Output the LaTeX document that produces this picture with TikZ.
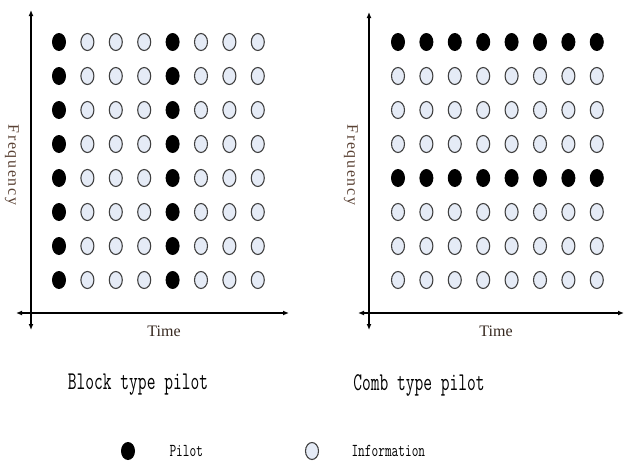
\documentclass[tikz,border=0pt]{standalone}
\usepackage{fontspec}
\usepackage{graphicx}
\usetikzlibrary{shapes.geometric, arrows.meta}
\newfontfamily\axisfont[LetterSpace=10]{Liberation Serif}
\newfontfamily\labelfont{Liberation Serif}
\definecolor{axistext}{RGB}{90,66,52}
\definecolor{infofill}{RGB}{229,235,246}
\tikzset{
  pilotdot/.style={ellipse, fill=black, minimum width=14pt, minimum height=18pt, inner sep=0pt},
  infodot/.style={ellipse, draw=black!75, fill=infofill, line width=1.1pt, minimum width=13pt, minimum height=17pt, inner sep=0pt},
  axisline/.style={line width=1.3pt, {Latex[length=6pt,width=5pt]}-{Latex[length=6pt,width=5pt]}},
  freqlabel/.style={rotate=-90, text=axistext, font=\axisfont\fontsize{16}{16}\selectfont},
  timelabel/.style={text=axistext!60!black, font=\labelfont\fontsize{16}{16}\selectfont},
  caption/.style={font=\ttfamily\fontsize{17}{17}\selectfont},
  keytext/.style={anchor=west, font=\ttfamily\fontsize{13}{13}\selectfont}
}
\begin{document}
\begin{tikzpicture}[x=1pt, y=-1pt]
  \def\colstep{28.4}
  \def\rowstep{34}
  \useasboundingbox (0,0) rectangle (625,461);

  % block type pilot
  \begin{scope}
    \coordinate (bl-top) at (31,10);
    \coordinate (bl-bot) at (31,330);
    \coordinate (bl-left) at (16,313);
    \coordinate (bl-right) at (289,313);
    \draw[axisline] (bl-bot) -- (bl-top);
    \draw[axisline] (bl-left) -- (bl-right);
    \foreach \r in {1,...,8} {
      \foreach \c in {1,5}
        \node[pilotdot] (bl-\r-\c) at ({59+(\c-1)*\colstep}, {42+(\r-1)*\rowstep}) {};
      \foreach \c in {2,3,4,6,7,8}
        \node[infodot] (bl-\r-\c) at ({59+(\c-1)*\colstep}, {42+(\r-1)*\rowstep}) {};
    }
    \node[freqlabel] (bl-freq) at (12,165) {Frequency};
    \node[timelabel] (bl-time) at (164,331) {Time};
    \node[caption] (bl-cap) at (138,385) {\scalebox{1}[1.5]{Block type pilot}};
  \end{scope}

  % comb type pilot
  \begin{scope}
    \coordinate (cb-top) at (369,12);
    \coordinate (cb-bot) at (369,330);
    \coordinate (cb-left) at (358,313);
    \coordinate (cb-right) at (624,313);
    \draw[axisline] (cb-bot) -- (cb-top);
    \draw[axisline] (cb-left) -- (cb-right);
    \foreach \c in {1,...,8} {
      \foreach \r in {1,5}
        \node[pilotdot] (cb-\r-\c) at ({398+(\c-1)*\colstep}, {42+(\r-1)*\rowstep}) {};
      \foreach \r in {2,3,4,6,7,8}
        \node[infodot] (cb-\r-\c) at ({398+(\c-1)*\colstep}, {42+(\r-1)*\rowstep}) {};
    }
    \node[freqlabel] (cb-freq) at (351,165) {Frequency};
    \node[timelabel] (cb-time) at (496,331) {Time};
    \node[caption] (cb-cap) at (419,385) {\scalebox{1}[1.5]{Comb type pilot}};
  \end{scope}

  % key
  \node[pilotdot] (key-pilot) at (128,451) {};
  \node[keytext] (key-pilot-txt) at (166,451) {\scalebox{1}[1.4]{Pilot}};
  \node[infodot] (key-info) at (312,451) {};
  \node[keytext] (key-info-txt) at (348,451) {\scalebox{1}[1.4]{Information}};
\end{tikzpicture}
\end{document}
